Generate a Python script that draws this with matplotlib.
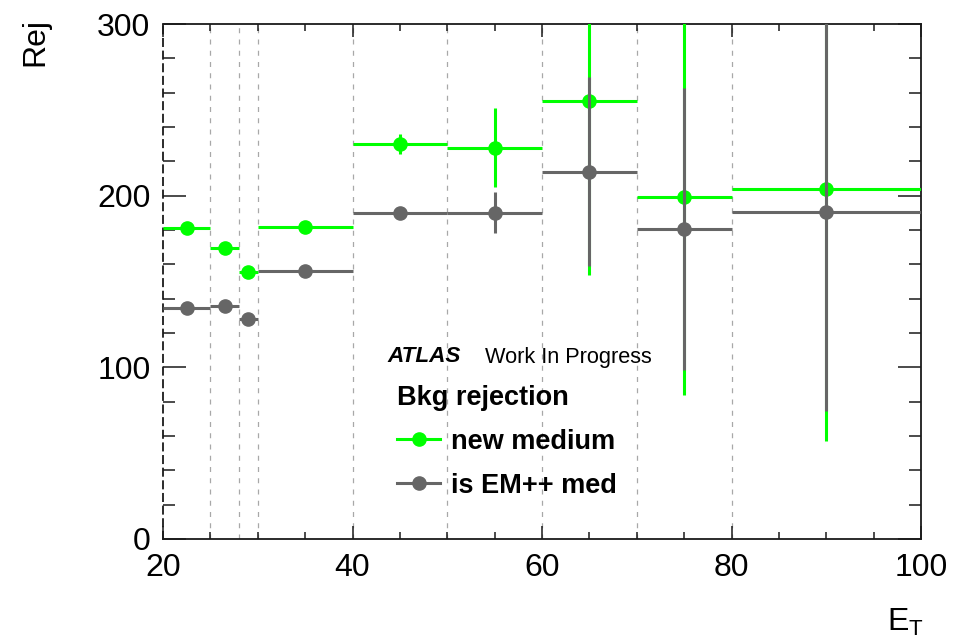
"""
Bkg rejection vs E_T (ATLAS style)
"""
import matplotlib
matplotlib.use('Agg')

import matplotlib.pyplot as plt
from matplotlib.lines import Line2D
from matplotlib.ticker import MultipleLocator
import numpy as np

plt.rcParams['font.family'] = ['Liberation Sans', 'DejaVu Sans']

# data
bin_edges = [20, 25, 28, 30, 40, 50, 60, 70, 80, 100]
new_medium = [181, 169.5, 155.5, 182, 230, 228, 255, 199, 204]
new_medium_err = [2, 2, 2, 2, 6, 23, 101, 115, 147]
em_med = [134.5, 135.5, 128, 156, 190, 190, 214, 180.5, 190.5]
em_med_err = [2, 2, 2, 2, 3, 12, 55, 82, 116]

COLORS = {
    "green": "#00ff00",
    "gray": "#666666",
    "grid": "#a8a8a8",
    "axis": "#1a1a1a",
}

edges = np.array(bin_edges, dtype=float)
centers = (edges[:-1] + edges[1:]) / 2
half_w = (edges[1:] - edges[:-1]) / 2

fig = plt.figure(figsize=(9.62, 6.42), dpi=100)
ax = fig.add_axes([163 / 962, 1 - 539 / 642, (921 - 163) / 962, (539 - 24) / 642])

# bin boundaries
for e in bin_edges[1:-1]:
    ax.axvline(e, color=COLORS["grid"], linewidth=0.9, linestyle=(0, (4, 5)), zorder=1)

ax.errorbar(centers, new_medium, xerr=half_w, yerr=new_medium_err, fmt='o',
            color=COLORS["green"], markersize=9.5, elinewidth=2.2, capsize=0, zorder=3)
ax.errorbar(centers, em_med, xerr=half_w, yerr=em_med_err, fmt='o',
            color=COLORS["gray"], markersize=9.5, elinewidth=2.2, capsize=0, zorder=4)

ax.set_xlim(20, 100)
ax.set_ylim(0, 300)

ax.xaxis.set_major_locator(MultipleLocator(20))
ax.xaxis.set_minor_locator(MultipleLocator(5))
ax.yaxis.set_major_locator(MultipleLocator(100))
ax.yaxis.set_minor_locator(MultipleLocator(20))

ax.tick_params(axis='both', which='both', direction='in', top=True, right=True,
               color=COLORS["axis"], width=1.1, labelsize=23)
ax.tick_params(axis='x', which='major', length=9.5, pad=10)
ax.tick_params(axis='x', which='minor', length=5)
ax.tick_params(axis='y', which='major', length=16.5, pad=9)
ax.tick_params(axis='y', which='minor', length=8.5)

for s in ax.spines.values():
    s.set_color(COLORS["axis"])
    s.set_linewidth(1.3)
ax.spines['left'].set_linestyle((0, (4, 3)))

fig.text(35 / 962, 1 - 18 / 642, 'Rej', rotation=90, ha='center', va='top', fontsize=23)
fig.text(905 / 962, 1 - 622 / 642, r'E$\mathregular{_T}$', ha='center', va='center', fontsize=23)

# ATLAS label
fig.text(387 / 962, 1 - 357 / 642, 'ATLAS', fontsize=16.2, fontweight='bold', fontstyle='italic',
         ha='left', va='center')
fig.text(485 / 962, 1 - 357 / 642, 'Work In Progress', fontsize=15.7, ha='left', va='center')

handles = [
    Line2D([], [], color=COLORS["green"], marker='o', markersize=9.5, linewidth=2.2),
    Line2D([], [], color=COLORS["gray"], marker='o', markersize=9.5, linewidth=2.2),
]
leg = ax.legend(handles, ['new medium', 'is EM++ med'], title='Bkg rejection',
                loc='upper left', bbox_to_anchor=(397 / 962, 1 - 385 / 642),
                bbox_transform=fig.transFigure, frameon=False,
                prop={'size': 19.5, 'weight': 'bold'},
                title_fontproperties={'size': 19.5, 'weight': 'bold'},
                alignment='left', handlelength=1.6, handletextpad=0.4,
                labelspacing=0.66, borderaxespad=0, borderpad=0)

fig.savefig('out.png', dpi=100, facecolor='white')
plt.close(fig)
